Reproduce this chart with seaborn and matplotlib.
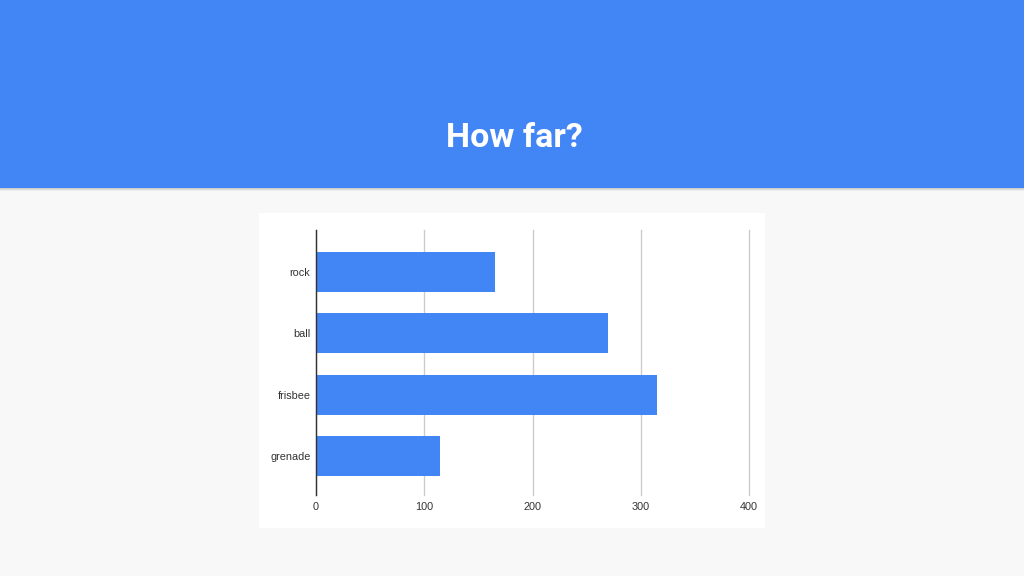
import matplotlib
matplotlib.use('Agg')
import matplotlib.pyplot as plt
import matplotlib.patches as mpatches
import pandas as pd
import seaborn as sns

# chart data
items = ['rock', 'ball', 'frisbee', 'grenade']
distance = [165, 270, 315, 115]
x_ticks = [0, 100, 200, 300, 400]

df = pd.DataFrame({'item': items, 'distance': distance})

blue = '#4285F4'

fig = plt.figure(figsize=(10.24, 5.76), dpi=100)
fig.patch.set_facecolor('#F8F8F8')

# header band with a little shadow underneath
for i, a in enumerate([0.18, 0.10, 0.05]):
    fig.add_artist(mpatches.Rectangle((0, 1 - (188 + i + 1) / 576), 1, 1 / 576,
                                      transform=fig.transFigure, color='black', alpha=a,
                                      lw=0, zorder=-5))
fig.add_artist(mpatches.Rectangle((0, 1 - 188 / 576), 1, 188 / 576,
                                  transform=fig.transFigure, color=blue, lw=0, zorder=-5))
fig.text(514 / 1024, 1 - 138 / 576, 'How far?', color='white', fontsize=24.5,
         fontweight='bold', family='Roboto', ha='center', va='center')

# white panel behind the chart
fig.add_artist(mpatches.Rectangle((259 / 1024, 1 - 528 / 576), 506 / 1024, 315 / 576,
                                  transform=fig.transFigure, color='white', lw=0, zorder=-5))

ax = fig.add_axes([316 / 1024, 1 - 495 / 576, 433 / 1024, 265 / 576])
ax.set_facecolor('white')
sns.barplot(data=df, x='distance', y='item', orient='h', color=blue,
            saturation=1, width=0.65, ax=ax, zorder=3)

ax.set_xlim(0, 400)
ax.set_ylim(3.636, -0.685)
ax.set_xticks(x_ticks)
ax.set_xticklabels([str(t) for t in x_ticks])
ax.grid(axis='x', color='#CCCCCC', lw=1, zorder=0)
for gl in ax.get_xgridlines():
    gl.set_clip_on(False)
ax.set_axisbelow(True)
for s in ['top', 'right', 'bottom']:
    ax.spines[s].set_visible(False)
ax.spines['left'].set_color('#333333')
ax.spines['left'].set_linewidth(1)
ax.spines['left'].set_zorder(5)
ax.tick_params(length=0, labelsize=7.8, labelcolor='#333333', pad=4)
ax.tick_params(axis='x', pad=5)
for lab in ax.get_xticklabels() + ax.get_yticklabels():
    lab.set_family('Liberation Sans')
ax.set_xlabel('')
ax.set_ylabel('')

fig.savefig('out.png', dpi=100, facecolor=fig.get_facecolor())
